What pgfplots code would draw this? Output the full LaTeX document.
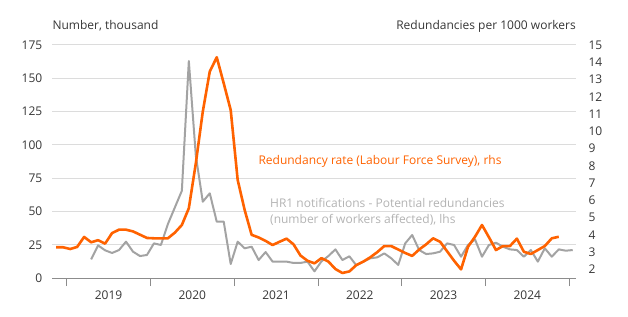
\documentclass[border=0pt]{standalone}
\usepackage{fontspec}
\setmainfont{Open Sans}
\usepackage{pgfplots}
\usepackage{pgfplotstable}
\pgfplotsset{compat=1.18}
\definecolor{ingorange}{HTML}{FF6200}
\definecolor{linegray}{HTML}{A3A3A3}
\definecolor{labgray}{HTML}{B3B3B3}
\definecolor{gridgray}{HTML}{DCDCDC}
\definecolor{axisgray}{HTML}{8C8C8C}
\definecolor{txt}{HTML}{363636}

\pgfplotstableread{
x y
-1.5 3.28
-0.5 3.28
0.5 3.18
1.5 3.30
2.5 3.88
3.5 3.57
4.5 3.69
5.5 3.49
6.5 4.10
7.5 4.30
8.5 4.30
9.5 4.20
10.5 4.01
11.5 3.82
12.5 3.80
13.5 3.80
14.5 3.80
15.5 4.13
16.5 4.57
17.5 5.54
18.5 8.14
19.5 11.14
20.5 13.46
21.5 14.29
22.5 12.78
23.5 11.23
24.5 7.18
25.5 5.44
26.5 4.0
27.5 3.85
28.5 3.65
29.5 3.41
30.5 3.6
31.5 3.78
32.5 3.45
33.5 2.8
34.5 2.5
35.5 2.35
36.5 2.65
37.5 2.45
38.5 2.02
39.5 1.79
40.5 1.88
41.5 2.25
42.5 2.45
43.5 2.7
44.5 3.0
45.5 3.35
46.5 3.35
47.5 3.15
48.5 2.95
49.5 2.78
50.5 3.15
51.5 3.45
52.5 3.8
53.5 3.6
54.5 3.05
55.5 2.5
56.5 2.0
57.5 3.31
58.5 3.89
59.5 4.57
60.5 3.86
61.5 3.12
62.5 3.35
63.5 3.35
64.5 3.78
65.5 3.02
66.5 2.89
67.5 3.12
68.5 3.35
69.5 3.8
70.5 3.89
}\rate

\pgfplotstableread{
x y
3.5 14
4.5 24.5
5.5 20.8
6.5 18.8
7.5 21
8.5 27.3
9.5 19.8
10.5 16.5
11.5 17.3
12.5 26
13.5 24.8
14.5 40.5
15.5 53
16.5 65.5
17.5 163
18.5 92
19.5 57.3
20.5 63.6
21.5 42.3
22.5 42.3
23.5 10.5
24.5 27.3
25.5 22.3
26.5 23.5
27.5 13.5
28.5 19.5
29.5 12.3
30.5 12.3
31.5 12.3
32.5 11.3
33.5 11.3
34.5 12.3
35.5 5
36.5 12.5
37.5 16.5
38.5 21.5
39.5 13.5
40.5 16.3
41.5 9.5
42.5 12.3
43.5 14.8
44.5 15.5
45.5 18.5
46.5 14.8
47.5 9.8
48.5 26
49.5 32.3
50.5 21
51.5 18
52.5 18.5
53.5 19.8
54.5 26
55.5 24.8
56.5 16
57.5 24.8
58.5 29
59.5 16
60.5 24.8
61.5 26.5
62.5 23.5
63.5 21.5
64.5 21
65.5 16
66.5 21
67.5 12.3
68.5 22.3
69.5 16
70.5 21.5
71.5 20.5
72.5 21
}\hrone

\begin{document}
\begin{tikzpicture}[x=1pt,y=1pt]
\useasboundingbox (0,0) rectangle (628,316);
\pgfplotsset{every axis/.append style={
  scale only axis, width=523.7pt, height=233pt,
  at={(52.3pt,38pt)}, anchor=south west,
  xmin=-2.06, xmax=72.97,
  font=\fontsize{12}{14}\selectfont,
  /pgf/number format/assume math mode=true,
  tick label style={text=txt},
}}
\begin{axis}[
  ymin=0, ymax=175, ytick={0,25,...,175},
  axis x line*=bottom, axis y line*=left,
  y axis line style={draw=none},
  x axis line style={axisgray, line width=1pt, -},
  ymajorgrids, grid style={gridgray, line width=1pt},
  xtick={0,12,...,72},
  xticklabels={2019,2020,2021,2022,2023,2024},
  x tick label as interval,
  tick align=outside,
  major tick length=8pt,
  xtick style={axisgray, line width=0.8pt},
  ytick style={draw=none},
  xticklabel style={yshift=-1.5pt},
  yticklabel style={xshift=1.5pt},
]
\addplot[linegray, line width=2pt, line join=round] table[x=x,y=y] {\hrone};
\end{axis}
\begin{axis}[
  ymin=1.5, ymax=15, ytick={2,...,15},
  axis y line*=right, axis x line=none,
  y axis line style={draw=none},
  ytick style={draw=none},
  yticklabel style={anchor=west, xshift=9pt},
]
\addplot[ingorange, line width=2.6pt, line join=round] table[x=x,y=y] {\rate};
\end{axis}
\begin{scope}[every node/.style={inner sep=0pt, font=\fontsize{12}{14}\selectfont}]
\node[anchor=west, text=ingorange] at (258.3,154.3) {Redundancy rate (Labour Force Survey), rhs};
\node[anchor=west, text=labgray] at (270,112.7) {HR1 notifications - Potential redundancies};
\node[anchor=west, text=labgray] at (270,96) {(number of workers affected), lhs};
\node[anchor=west, text=txt] at (52.3,290) {Number, thousand};
\node[anchor=east, text=txt] at (576,290) {Redundancies per 1000 workers};
\end{scope}
\end{tikzpicture}
\end{document}
